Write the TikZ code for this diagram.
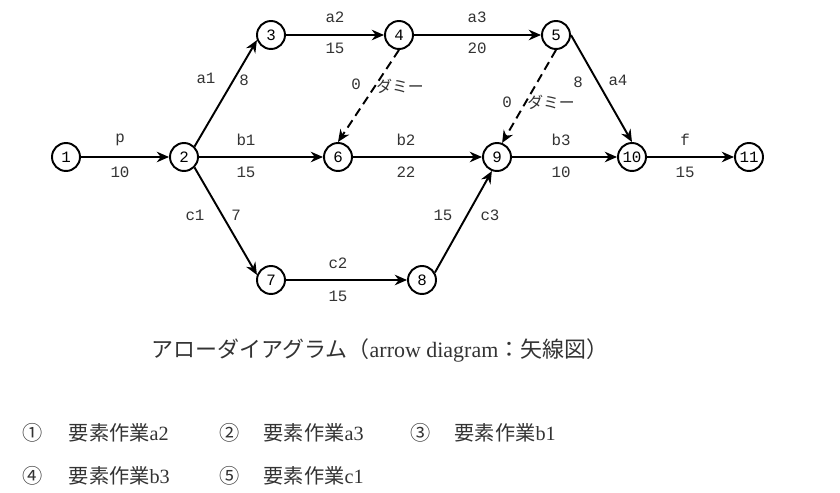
\documentclass[tikz,border=0pt]{standalone}
\usepackage{fontspec}
\setmainfont{Liberation Serif}
\setmonofont{Liberation Mono}
\newfontfamily\jpfont{Noto Sans CJK JP}
\usetikzlibrary{arrows.meta}
\tikzset{
  ev/.style    ={draw,circle,line width=1.1pt,minimum size=0.56cm,inner sep=0pt,font=\ttfamily\small},
  ar/.style    ={-{Stealth[length=7pt,width=6pt]},line width=1.1pt},
  dashar/.style={-{Stealth[length=7pt,width=6pt]},line width=1.1pt,dash pattern=on 5pt off 3pt},
  tag/.style   ={font=\ttfamily\small,text=black!80,inner sep=1pt},
  jtag/.style  ={font=\jpfont\small,text=black!80,inner sep=1pt},
  title/.style ={font=\fontsize{12.5}{14}\selectfont,text=black!80,inner sep=0pt},
  opt/.style   ={font=\jpfont\fontsize{11.5}{14}\selectfont,text=black!80,anchor=west,inner sep=0pt},
}

\begin{document}
\begin{tikzpicture}[x=0.02cm,y=-0.02cm]
  \useasboundingbox (0,0) rectangle (840,493);
  % events
  \node[ev] (n1)  at (66,157)  {1};
  \node[ev] (n2)  at (184,157) {2};
  \node[ev] (n3)  at (271,35)  {3};
  \node[ev] (n4)  at (399,35)  {4};
  \node[ev] (n5)  at (556,35)  {5};
  \node[ev] (n6)  at (338,157) {6};
  \node[ev] (n7)  at (271,280) {7};
  \node[ev] (n8)  at (422,280) {8};
  \node[ev] (n9)  at (497,157) {9};
  \node[ev] (n10) at (632,157) {10};
  \node[ev] (n11) at (749,157) {11};
  % activities
  \draw[ar] (n1) -- (n2);
  \draw[ar] (n2.north east) -- (n3.200);
  \draw[ar] (n2) -- (n6);
  \draw[ar] (n2.south east) -- (n7.160);
  \draw[ar] (n3) -- (n4);
  \draw[ar] (n4) -- (n5);
  \draw[ar] (n5.east) -- (n10.north);
  \draw[ar] (n6) -- (n9);
  \draw[ar] (n7) -- (n8);
  \draw[ar] (n8.30) -- (n9.250);
  \draw[ar] (n9) -- (n10);
  \draw[ar] (n10) -- (n11);
  \draw[dashar] (n4.south) -- (n6.north);
  \draw[dashar] (n5.south) -- (n9.70);
  % labels
  \node[tag] (lp)  at (120,140) {p};   \node[tag] (tp)  at (120,172) {10};
  \node[tag] (la1) at (206,78)  {a1};  \node[tag] (ta1) at (244,80)  {8};
  \node[tag] (lb1) at (246,140) {b1};  \node[tag] (tb1) at (246,172) {15};
  \node[tag] (lc1) at (195,215) {c1};  \node[tag] (tc1) at (236,215) {7};
  \node[tag] (la2) at (335,17)  {a2};  \node[tag] (ta2) at (335,48)  {15};
  \node[tag] (la3) at (477,17)  {a3};  \node[tag] (ta3) at (477,48)  {20};
  \node[tag] (la4) at (618,80)  {a4};  \node[tag] (ta4) at (578,82)  {8};
  \node[tag] (lb2) at (406,140) {b2};  \node[tag] (tb2) at (406,172) {22};
  \node[tag] (lb3) at (561,140) {b3};  \node[tag] (tb3) at (561,172) {10};
  \node[tag] (lc2) at (338,263) {c2};  \node[tag] (tc2) at (338,296) {15};
  \node[tag] (lc3) at (490,215) {c3};  \node[tag] (tc3) at (443,215) {15};
  \node[tag] (lf)  at (685,140) {f};   \node[tag] (tf)  at (685,172) {15};
  \node[tag] (td1) at (356,84)  {0};   \node[jtag] (ld1) at (400,86)  {ダミー};
  \node[tag] (td2) at (507,102) {0};   \node[jtag] (ld2) at (551,102) {ダミー};
  % caption and choices
  \node[title] (cap) at (380,350) {{\jpfont アローダイアグラム（}arrow diagram{\jpfont ：矢線図）}};
  \node[opt] (o1) at (22,433)  {①\hspace{1.3em}要素作業{\rmfamily a2}};
  \node[opt] (o2) at (219,433) {②\hspace{1.2em}要素作業{\rmfamily a3}};
  \node[opt] (o3) at (410,433) {③\hspace{1.2em}要素作業{\rmfamily b1}};
  \node[opt] (o4) at (22,476)  {④\hspace{1.3em}要素作業{\rmfamily b3}};
  \node[opt] (o5) at (219,476) {⑤\hspace{1.2em}要素作業{\rmfamily c1}};
\end{tikzpicture}
\end{document}
